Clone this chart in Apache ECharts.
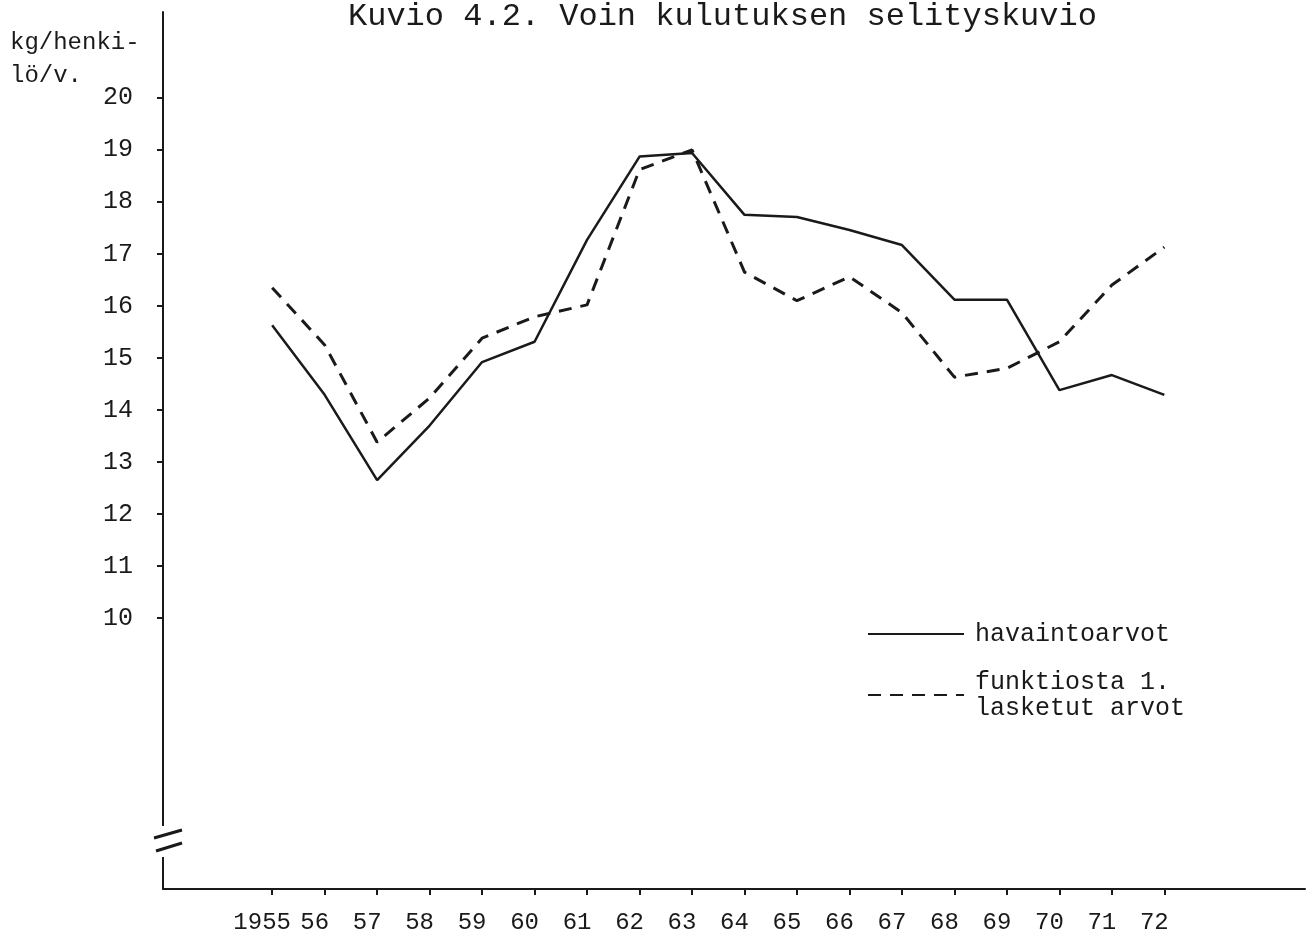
<!DOCTYPE html>
<html>
<head>
<meta charset="utf-8">
<title>Kuvio 4.2</title>
<script src="https://cdn.jsdelivr.net/npm/echarts@6/dist/echarts.min.js"></script>
<style>
  html, body { margin: 0; padding: 0; background: #fff; }
  #main { width: 1314px; height: 941px; }
</style>
</head>
<body>
<div id="main"></div>
<script>
// vuodet ja arvot (kg/henkilö/v.)
var years = [1955, 1956, 1957, 1958, 1959, 1960, 1961, 1962, 1963, 1964, 1965, 1966, 1967, 1968, 1969, 1970, 1971, 1972];
var yearLabels = ['1955', '56', '57', '58', '59', '60', '61', '62', '63', '64', '65', '66', '67', '68', '69', '70', '71', '72'];
var havaintoarvot = [15.63, 14.29, 12.65, 13.7, 14.92, 15.31, 17.27, 18.87, 18.94, 17.75, 17.71, 17.46, 17.17, 16.12, 16.12, 14.38, 14.67, 14.29];
var laskettu = [16.35, 15.25, 13.38, 14.23, 15.38, 15.79, 16.02, 18.62, 19.0, 16.65, 16.1, 16.56, 15.87, 14.63, 14.8, 15.31, 16.4, 17.13];
var yTicks = [10, 11, 12, 13, 14, 15, 16, 17, 18, 19, 20];

var FONT = 'Liberation Mono';
var INK = '#1a1a1a';

function pairs(vals) {
  return years.map(function (y, i) { return [y, vals[i]]; });
}

var myChart = echarts.init(document.getElementById('main'));

var option = {
  backgroundColor: '#fff',
  animation: false,
  grid: { left: 163, right: 9, top: 12, bottom: 52, containLabel: false, outerBoundsMode: 'none' },
  xAxis: {
    type: 'value',
    min: 1952.92,
    max: 1974.68,
    splitLine: { show: false },
    axisLine: { show: true, lineStyle: { color: INK, width: 2 } },
    axisTick: { show: true, customValues: years, length: 6, lineStyle: { color: INK, width: 2 } },
    axisLabel: {
      customValues: years,
      margin: 22,
      fontFamily: FONT,
      fontSize: 24,
      color: INK,
      padding: [0, 20, 0, 0],
      formatter: function (v) { return yearLabels[years.indexOf(v)]; }
    }
  },
  yAxis: {
    type: 'value',
    min: 4.79,
    max: 21.65,
    splitLine: { show: false },
    axisLine: { show: true, lineStyle: { color: INK, width: 2 } },
    axisTick: { show: true, customValues: yTicks, length: 6, lineStyle: { color: INK, width: 2 } },
    axisLabel: {
      customValues: yTicks,
      margin: 30,
      fontFamily: FONT,
      fontSize: 25,
      color: INK,
      padding: [12, 0, 0, 0]
    }
  },
  legend: {
    orient: 'vertical',
    left: 862,
    top: 616,
    itemWidth: 96,
    itemHeight: 14,
    itemGap: 22,
    itemStyle: { opacity: 0 },
    textStyle: { fontFamily: FONT, fontSize: 25, color: INK, lineHeight: 26, padding: [0, 0, 0, 6] },
    data: ['havaintoarvot', 'funktiosta 1.\nlasketut arvot']
  },
  series: [
    {
      name: 'havaintoarvot',
      type: 'line',
      data: pairs(havaintoarvot),
      symbol: 'none',
      lineStyle: { color: INK, width: 2.5 },
      itemStyle: { color: INK }
    },
    {
      name: 'funktiosta 1.\nlasketut arvot',
      type: 'line',
      data: pairs(laskettu),
      symbol: 'none',
      lineStyle: { color: INK, width: 3, type: [13, 9] },
      itemStyle: { color: INK }
    }
  ],
  graphic: [
    {
      type: 'text',
      left: 348,
      top: 1,
      style: { text: 'Kuvio 4.2. Voin kulutuksen selityskuvio', fontFamily: FONT, fontSize: 32, fill: INK }
    },
    {
      type: 'text',
      left: 10,
      top: 26,
      style: { text: 'kg/henki-\nlö/v.', fontFamily: FONT, fontSize: 24, lineHeight: 33, fill: INK }
    },
    // katkomerkki y-akselilla
    { type: 'rect', z: 100, shape: { x: 157, y: 826, width: 12, height: 31 }, style: { fill: '#fff' } },
    { type: 'line', z: 101, shape: { x1: 154, y1: 838, x2: 182, y2: 830 }, style: { stroke: INK, lineWidth: 3 } },
    { type: 'line', z: 101, shape: { x1: 156, y1: 851, x2: 182, y2: 843 }, style: { stroke: INK, lineWidth: 3 } }
  ]
};

myChart.setOption(option);
</script>
</body>
</html>
